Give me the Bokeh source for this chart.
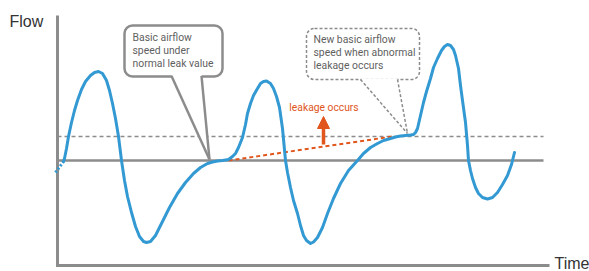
from bokeh.plotting import figure
from bokeh.models import Range1d, Arrow, NormalHead
from bokeh.core.properties import value
from bokeh.embed import file_html
from bokeh.resources import INLINE

# ---- data (diagram space: x = time, y = screen level, baseline level 160) ----
lead_t = [55, 63]
lead_y = [172, 161]

curve_t = [63, 64, 66, 68, 71, 74, 77, 81, 85, 90, 94, 98, 102, 106, 109, 112, 115, 118, 121,
           124, 127, 131, 135, 139, 143, 146, 150, 155, 160, 165, 169, 173, 177, 185, 193, 200,
           207, 212, 217, 222, 228, 232, 235, 238, 242, 245, 247, 250, 253, 257, 260, 263, 266,
           270, 273, 276, 279, 282, 285, 287, 290, 293, 297, 300, 303, 306, 310, 313, 317, 322,
           327, 333, 340, 348, 357, 363, 370, 377, 383, 390, 395, 400, 405, 410, 413, 415, 417,
           420, 423, 426, 430, 433, 437, 441, 444, 447, 450, 453, 455, 458, 460, 462, 465, 467,
           468, 470, 472, 475, 478, 482, 487, 492, 497, 502, 507, 511, 514]
curve_y = [161, 158, 148, 136, 122, 110, 100, 89, 81, 75, 72, 71, 73, 80, 90, 103, 118, 136, 160,
           180, 196, 212, 226, 236, 241, 242, 241, 235, 225, 215, 207, 200, 193, 182, 173, 167,
           163, 161.5, 160.5, 160, 159, 156, 153, 147, 137, 124, 113, 103, 95, 88, 83, 81, 80.5,
           83, 88, 96, 107, 128, 160, 172, 187, 200, 213, 225, 235, 240, 243, 241.5, 237, 227,
           213, 198, 183, 170, 160, 153, 147, 143, 140, 138, 136.5, 135.5, 135, 134.5, 134, 132, 128,
           115, 102, 91, 78, 67, 58, 50, 46, 44, 45, 49, 55, 68, 85, 100, 122, 145,
           160, 170, 178, 187, 193, 197, 198.5, 197, 192, 184, 175, 164, 152]

axis_t = [57, 57, 549]
axis_y = [15, 265, 265]
baseline_t = [57, 543]
baseline_y = [160, 160]
newlevel_t = [57, 543]
newlevel_y = [136, 136]
leak_t = [228, 392]
leak_y = [160, 136]
arrow_t = [323, 323]
arrow_y = [144, 116]

box1 = dict(left=124, right=222, top=25, bottom=76)
box1_tip = [(171, 74), (209, 159), (201, 74)]
box1_lines = ["Basic airflow", "speed under", "normal leak value"]
box1_text_t = [132, 132, 132]
box1_text_y = [37, 50, 63]

box2 = dict(left=306, right=419, top=28, bottom=79)
box2_tip = [(360, 78), (407, 133), (397, 78)]
box2_lines = ["New basic airflow", "speed when abnormal", "leakage occurs"]
box2_text_t = [313, 313, 313]
box2_text_y = [39, 52, 65]

label_leak = "leakage occurs"
label_leak_pos = (323.5, 106.5)
flow_label_pos = (9, 21)
time_label_pos = (554, 263)

GRAY = "#8c8c8c"
BLUE = "#3399d3"
ORANGE = "#e0561c"
TXT = "#5f5f5f"
UI = value("Roboto")
TITLE = value("Liberation Sans")

p = figure(width=589, height=271, x_range=Range1d(0, 589), y_range=Range1d(271, 0),
           output_backend="svg", toolbar_location=None, min_border=0)
p.axis.visible = False
p.grid.visible = False
p.outline_line_color = None

# axes
p.line(axis_t, axis_y, line_width=3, line_color=GRAY, line_join="miter")
p.text(x=[flow_label_pos[0]], y=[flow_label_pos[1]], text=["Flow"], text_font=TITLE,
       text_font_size="16px", text_baseline="alphabetic", text_color="#333333")
p.text(x=[time_label_pos[0]], y=[time_label_pos[1]], text=["Time"], text_font=TITLE,
       text_font_size="16px", text_baseline="alphabetic", text_color="#333333")

# reference levels
p.line(newlevel_t, newlevel_y, line_width=1.5, line_color=GRAY, line_dash="4 3")
p.line(baseline_t, baseline_y, line_width=2.5, line_color=GRAY)

# leak trend
p.line(leak_t, leak_y, line_width=2, line_color=ORANGE, line_dash="4 3")
p.add_layout(Arrow(x_start=arrow_t[0], y_start=arrow_y[0], x_end=arrow_t[1], y_end=arrow_y[1],
                   line_width=3.5, line_color=ORANGE,
                   end=NormalHead(size=12, fill_color=ORANGE, line_color=ORANGE, line_width=1)))
p.text(x=[label_leak_pos[0]], y=[label_leak_pos[1]], text=[label_leak], text_font=UI,
       text_font_size="10.3px", text_align="center", text_baseline="alphabetic", text_color=ORANGE)

# flow curve
p.line(lead_t, lead_y, line_width=3, line_color=BLUE, line_dash="2 2")
p.line(curve_t, curve_y, line_width=3, line_color=BLUE, line_join="round", line_cap="round")

# callout 1 (solid)
p.quad(left=[box1["left"]], right=[box1["right"]], top=[box1["top"]], bottom=[box1["bottom"]],
       fill_color="white", line_color=GRAY, line_width=2.5, border_radius=8)
p.patch([q[0] for q in box1_tip], [q[1] for q in box1_tip], fill_color="white", line_color=None)
p.line([box1_tip[0][0], box1_tip[1][0]], [box1_tip[0][1] + 1.5, box1_tip[1][1]], line_color=GRAY, line_width=2.5)
p.line([box1_tip[2][0], box1_tip[1][0]], [box1_tip[2][1] + 1.5, box1_tip[1][1]], line_color=GRAY, line_width=2.5)
p.text(x=box1_text_t, y=box1_text_y, text=box1_lines, text_font=UI, text_font_size="10.4px",
       text_baseline="alphabetic", text_color=TXT)

# callout 2 (dashed)
p.quad(left=[box2["left"]], right=[box2["right"]], top=[box2["top"]], bottom=[box2["bottom"]],
       fill_color="white", line_color=GRAY, line_width=1.5, line_dash="3 2", border_radius=8)
p.patch([q[0] for q in box2_tip], [q[1] for q in box2_tip], fill_color="white", line_color=None)
p.line([box2_tip[0][0], box2_tip[1][0]], [box2_tip[0][1] + 1, box2_tip[1][1]], line_color=GRAY,
       line_width=1.5, line_dash="3 2")
p.line([box2_tip[2][0], box2_tip[1][0]], [box2_tip[2][1] + 1, box2_tip[1][1]], line_color=GRAY,
       line_width=1.5, line_dash="3 2")
p.text(x=box2_text_t, y=box2_text_y, text=box2_lines, text_font=UI, text_font_size="10.4px",
       text_baseline="alphabetic", text_color=TXT)

open("out.html", "w").write(file_html(p, INLINE))
